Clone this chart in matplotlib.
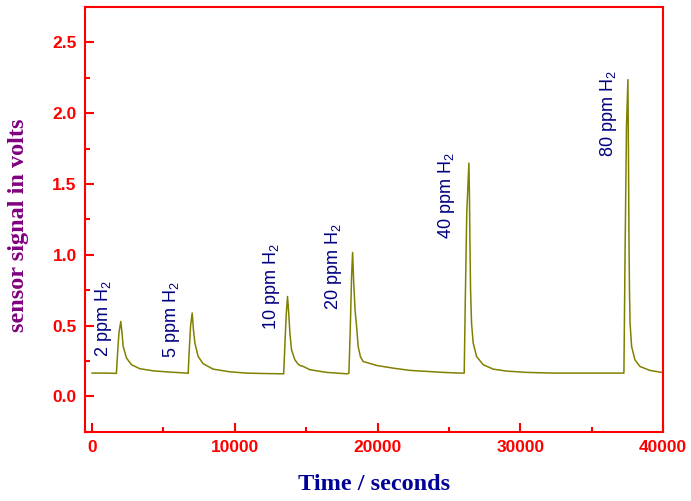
import matplotlib
matplotlib.use('Agg')
import matplotlib.pyplot as plt
from matplotlib.ticker import MultipleLocator, FormatStrFormatter

# sensor trace
time_s = [0, 1000, 1700, 1780, 1880, 2010, 2100, 2175, 2410, 2760, 3340, 4275,
          5445, 6615, 6730, 6800, 6900, 7010, 7100, 7200, 7430, 7780, 8480,
          9650, 10820, 12000, 13420, 13500, 13600, 13690, 13780, 13855, 13970,
          14200, 14400, 14555, 14790, 15255, 16425, 17830, 17990, 18080, 18180,
          18250, 18330, 18430, 18530, 18640, 18800, 18990, 19930, 21090, 22260,
          23430, 24600, 25770, 26070, 26150, 26250, 26400, 26440, 26470, 26515,
          26585, 26700, 26940, 27400, 28100, 29040, 30440, 32300, 34640, 36980,
          37260, 37340, 37440, 37540, 37580, 37615, 37650, 37690, 37800, 38030,
          38380, 39080, 39900]
volts = [0.165, 0.165, 0.163, 0.30, 0.45, 0.53, 0.44, 0.353, 0.271, 0.224, 0.196, 0.181,
         0.172, 0.165, 0.163, 0.32, 0.50, 0.589, 0.47, 0.377, 0.282, 0.231, 0.193,
         0.174, 0.165, 0.162, 0.16, 0.35, 0.58, 0.706, 0.58, 0.448, 0.33,
         0.26, 0.232, 0.219, 0.212, 0.189, 0.17, 0.16, 0.163, 0.45, 0.85,
         1.017, 0.80, 0.60, 0.494, 0.353, 0.28, 0.247, 0.219, 0.20, 0.184,
         0.177, 0.17, 0.165, 0.165, 0.70, 1.30, 1.648, 1.40, 1.107, 0.753,
         0.518, 0.377, 0.282, 0.224, 0.193, 0.179, 0.17, 0.165, 0.165, 0.165,
         0.165, 1.0, 1.9, 2.237, 1.7, 1.107, 0.75, 0.518, 0.353, 0.259,
         0.212, 0.184, 0.17]

# concentration labels and where they sit (x, bottom of text)
labels = ['2 ppm H$_2$', '5 ppm H$_2$', '10 ppm H$_2$', '20 ppm H$_2$',
          '40 ppm H$_2$', '80 ppm H$_2$']
label_x = [820, 5585, 12593, 16938, 24856, 36209]
label_y = [0.28, 0.273, 0.471, 0.612, 1.114, 1.693]

plt.rcParams['font.family'] = ['Liberation Sans', 'DejaVu Sans']
plt.rcParams['mathtext.default'] = 'regular'

red = '#ff0000'

fig = plt.figure(figsize=(6.91, 5.01), dpi=100)
ax = fig.add_axes([0.123, 0.138, 0.8365, 0.848])

ax.plot(time_s, volts, color='#808000', lw=1.1)

for txt, x, y in zip(labels, label_x, label_y):
    ax.text(x, y, txt, rotation=90, ha='center', va='bottom',
            fontsize=13, color='#000080')

ax.set_xlim(-500, 40000)
ax.set_ylim(-0.25, 2.75)
ax.xaxis.set_major_locator(MultipleLocator(10000))
ax.xaxis.set_minor_locator(MultipleLocator(5000))
ax.yaxis.set_major_locator(MultipleLocator(0.5))
ax.yaxis.set_minor_locator(MultipleLocator(0.25))
ax.yaxis.set_major_formatter(FormatStrFormatter('%.1f'))

for s in ax.spines.values():
    s.set_color(red)
    s.set_linewidth(1.5)
ax.tick_params(which='both', direction='in', color=red, width=1.5,
               labelcolor=red, labelsize=12.5)
ax.tick_params(which='major', length=6.5, pad=6)
ax.tick_params(which='minor', length=3.5)
for lab in ax.get_xticklabels() + ax.get_yticklabels():
    lab.set_fontweight('bold')

ax.set_xlabel('Time / seconds', family='Liberation Serif', fontweight='bold',
              fontsize=17.5, color='#000099')
ax.set_ylabel('sensor signal in volts', family='Liberation Serif', fontweight='bold',
              fontsize=17.5, color='#800080')
ax.xaxis.set_label_coords(0.5, -0.099)
ax.yaxis.set_label_coords(-0.097, 0.486)

fig.savefig('out.png', dpi=100)
